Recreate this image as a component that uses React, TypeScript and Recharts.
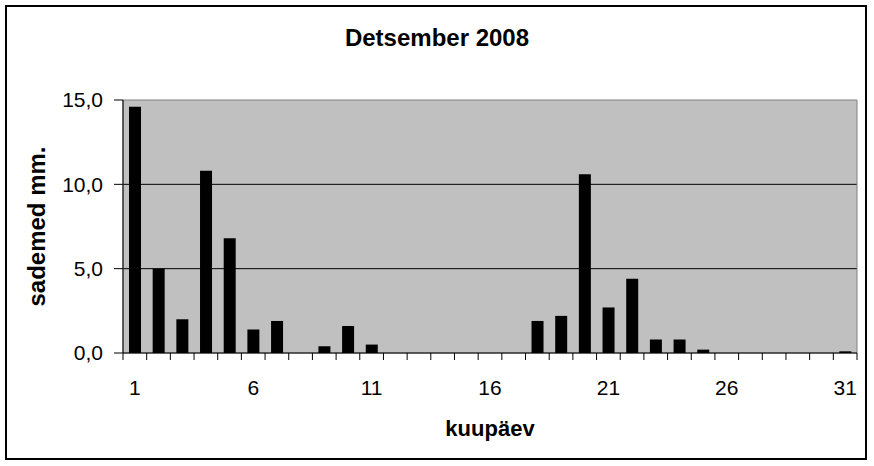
import React from "react";
import {
  BarChart,
  Bar,
  XAxis,
  YAxis,
  CartesianGrid,
  ReferenceArea,
} from "recharts";

const FONT = '"Liberation Sans", Arial, sans-serif';

// päevad 1..31
const days = [
  "1", "2", "3", "4", "5", "6", "7", "8", "9", "10",
  "11", "12", "13", "14", "15", "16", "17", "18", "19", "20",
  "21", "22", "23", "24", "25", "26", "27", "28", "29", "30", "31",
];

// sademed mm
const rain = [
  14.6, 5.0, 2.0, 10.8, 6.8, 1.4, 1.9, 0, 0.4, 1.6,
  0.5, 0, 0, 0, 0, 0, 0, 1.9, 2.2, 10.6,
  2.7, 4.4, 0.8, 0.8, 0.2, 0, 0, 0, 0, 0, 0.1,
];

const yTicks = [0, 5, 10, 15];
const gridValues = [5, 10];

const data = days.map((d, i) => ({ day: d, rain: rain[i] }));

const PLOT_LEFT = 123;
const PLOT_RIGHT = 857;
const HALF_BAND = (PLOT_RIGHT - PLOT_LEFT) / days.length / 2;
const X_TICK_SIZE = 7;
const X_TICK_MARGIN = 20;

function XTick(props: any) {
  const { x, y, payload, index } = props;
  const axisY = y - X_TICK_SIZE - X_TICK_MARGIN;
  const left = x - HALF_BAND;
  const right = x + HALF_BAND;
  return (
    <g>
      <line x1={left} x2={left} y1={axisY} y2={axisY + X_TICK_SIZE} stroke="#000" />
      {index === days.length - 1 && (
        <line x1={right} x2={right} y1={axisY} y2={axisY + X_TICK_SIZE} stroke="#000" />
      )}
      {index % 5 === 0 && (
        <text
          x={x}
          y={y}
          dy="0.71em"
          textAnchor="middle"
          fill="#000"
          fontSize={21}
          fontFamily={FONT}
        >
          {payload.value}
        </text>
      )}
    </g>
  );
}

export default function App() {
  return (
    <div
      style={{
        position: "absolute",
        left: 0,
        top: 0,
        width: 874,
        height: 466,
        background: "#fff",
        fontFamily: FONT,
      }}
    >
      <div
        style={{
          position: "absolute",
          left: 5,
          top: 5,
          width: 862,
          height: 455,
          border: "2px solid #000",
          boxSizing: "border-box",
        }}
      />
      <div
        style={{
          position: "absolute",
          left: 0,
          top: 24,
          width: 874,
          textAlign: "center",
          fontSize: 24,
          fontWeight: "bold",
          color: "#000",
        }}
      >
        Detsember 2008
      </div>
      <div style={{ position: "absolute", left: 0, top: 0 }}>
        <BarChart
          width={874}
          height={466}
          data={data}
          margin={{ top: 100, right: 874 - PLOT_RIGHT, bottom: 30, left: 10 }}
        >
          <CartesianGrid
            vertical={false}
            stroke="#000"
            fill="#c0c0c0"
            fillOpacity={1}
            horizontalValues={gridValues}
          />
          <ReferenceArea
            x1={days[0]}
            x2={days[days.length - 1]}
            y1={0}
            y2={15}
            fill="none"
            stroke="#808080"
            strokeWidth={1}
          />
          <XAxis
            dataKey="day"
            interval={0}
            height={83}
            tickLine={false}
            tickSize={X_TICK_SIZE}
            tickMargin={X_TICK_MARGIN}
            axisLine={{ stroke: "#000" }}
            tick={<XTick />}
            label={{
              value: "kuupäev",
              position: "insideBottom",
              offset: 0,
              fill: "#000",
              style: { fontSize: 22, fontWeight: "bold", fontFamily: FONT, fill: "#000" },
            }}
          />
          <YAxis
            width={PLOT_LEFT - 10}
            domain={[0, 15]}
            ticks={yTicks}
            interval={0}
            tickSize={9}
            tickMargin={11}
            tickFormatter={(v: number) => v.toFixed(1).replace(".", ",")}
            tick={{ fill: "#000", fontSize: 21, fontFamily: FONT }}
            tickLine={{ stroke: "#000" }}
            axisLine={{ stroke: "#000" }}
            label={{
              value: "sademed mm.",
              angle: -90,
              position: "insideLeft",
              offset: 26,
              fill: "#000",
              style: {
                fontSize: 24,
                fontWeight: "bold",
                fontFamily: FONT,
                fill: "#000",
                textAnchor: "middle",
              },
            }}
          />
          <Bar dataKey="rain" fill="#000" barSize={12} isAnimationActive={false} />
        </BarChart>
      </div>
    </div>
  );
}
